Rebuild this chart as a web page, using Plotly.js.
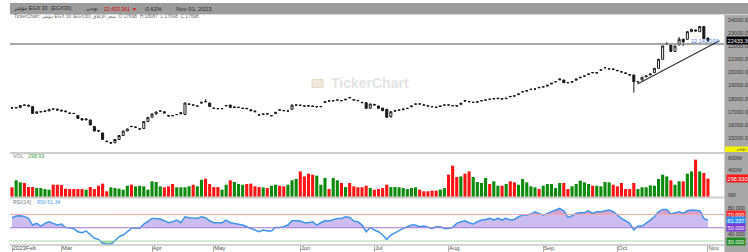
<!DOCTYPE html>
<html><head><meta charset="utf-8">
<script src="https://cdn.plot.ly/plotly-3.0.1.min.js"></script>
<style>html,body{margin:0;padding:0;background:#fff}#chart{width:748px;height:252px}</style>
</head><body><div id="chart"></div>
<script>
// ---- data (trading-day index 0..169, Feb 2023 .. Nov 01 2023) ----
const openP = [17300,17285,17330,17515,17500,17400,16880,16990,17010,17060,
17215,17200,17130,17060,16900,16880,16720,16480,16380,16373,
15878,15560,15384,14760,14620,14640,14890,15190,15540,15890,
15820,15690,15720,16260,16580,16830,17050,17000,16700,16710,
16780,16840,16790,17560,17520,17430,17650,17770,17665,17270,
17240,17232,17440,17513,17330,17320,17255,17260,17150,17060,
16760,16800,16860,16690,16860,17140,17090,17050,17186,17505,
17500,17440,17460,17440,17370,17380,17700,17825,17835,17885,
17860,17900,18075,17920,17860,17720,17688,17262,17560,17437,
17285,17186,16640,17040,17125,17150,17255,17380,17580,17595,
17520,17460,17390,17345,17400,17505,17520,17465,17460,17560,
17840,17770,17710,17730,17835,17885,17955,17985,17990,18000,
17990,18170,18205,18300,18515,18570,18700,18720,18860,18880,
18950,19110,19275,19420,19414,19215,19250,19400,19580,19710,
19830,19980,19940,20165,20340,20260,20250,20140,20040,19950,
19820,19795,19275,19414,19650,19800,19970,20304,20989,22145,
22076,21582,22076,22520,22510,23088,23217,23088,23483,22600];
const highP = [17330,17360,17500,17540,17520,17420,17020,17040,17080,17200,
17240,17220,17150,17080,16930,16900,16740,16500,16470,16400,
15900,15600,15420,14800,14700,14910,15220,15560,15720,15920,
15880,15720,16280,16600,16850,17000,17080,17020,16740,16720,
16830,16950,17690,17610,17550,17470,17740,17950,17690,17300,
17270,17270,17520,17530,17380,17360,17300,17270,17170,17080,
16800,16850,16870,16740,16980,17170,17110,17080,17530,17560,
17510,17460,17470,17450,17400,17420,17780,17850,17850,17930,
17870,17970,18110,17930,17870,17730,17700,17610,17580,17450,
17300,17200,17020,17100,17150,17230,17280,17460,17610,17600,
17550,17470,17400,17350,17450,17530,17530,17470,17470,17660,
17850,17780,17730,17780,17850,17920,17960,18000,18040,18010,
18040,18180,18210,18370,18560,18620,18740,18760,18870,18920,
19030,19180,19300,19510,19430,19220,19300,19510,19640,19760,
19890,20010,19990,20210,20390,20310,20260,20150,20050,19960,
19830,19810,19320,19640,19740,19890,20320,21010,22030,22300,
22100,22030,22684,22540,23120,23300,23240,23520,23500,22650];
const lowP = [17250,17270,17320,17460,17420,16840,16850,16960,17000,17050,
17170,17110,17040,16980,16850,16830,16470,16350,16360,15970,
15500,15480,14860,14680,14560,14620,14870,15170,15520,15820,
15790,15600,15700,16240,16560,16810,17030,16890,16650,16690,
16750,16830,16780,17540,17490,17410,17640,17740,17380,17240,
17210,17210,17430,17300,17310,17300,17240,17210,17060,16990,
16720,16790,16800,16680,16850,17100,17060,17040,17170,17490,
17480,17420,17420,17400,17360,17370,17690,17790,17830,17860,
17820,17890,18040,17880,17820,17670,17240,17240,17500,17250,
17060,16560,16540,17030,17120,17140,17250,17370,17570,17580,
17490,17420,17370,17330,17390,17500,17500,17450,17420,17550,
17800,17750,17700,17720,17830,17870,17930,17980,17980,17950,
17980,18130,18190,18290,18490,18560,18680,18700,18810,18870,
18940,19100,19270,19410,19190,19200,19240,19390,19570,19690,
19820,19940,19930,20150,20320,20240,20210,20100,20000,19900,
19780,18449,19250,19400,19640,19790,19960,20290,20970,22100,
21560,21560,22050,22000,22490,23070,23120,23070,22550,22300];
const closeP = [17285,17323,17475,17500,17437,16867,16990,17010,17057,17186,
17209,17133,17060,17004,16880,16867,16487,16373,16449,15992,
15536,15536,14890,14738,14640,14890,15194,15536,15688,15878,
15830,15700,16259,16578,16830,16981,17057,16905,16677,16700,
16791,16928,17665,17589,17513,17437,17718,17764,17400,17262,
17232,17240,17475,17323,17360,17340,17262,17232,17080,17004,
16753,16829,16829,16700,16958,17133,17080,17057,17513,17513,
17490,17437,17437,17410,17384,17400,17764,17817,17840,17893,
17840,17947,18068,17893,17840,17688,17262,17590,17513,17262,
17080,16578,17004,17080,17133,17209,17262,17437,17589,17589,
17513,17437,17384,17338,17437,17513,17513,17460,17437,17642,
17817,17764,17718,17764,17840,17893,17947,17990,18023,17969,
18023,18144,18198,18350,18525,18601,18707,18730,18829,18905,
19011,19163,19285,19490,19209,19209,19285,19490,19620,19719,
19871,19970,19970,20175,20350,20270,20228,20122,20023,19924,
19795,19285,19285,19620,19719,19871,20304,20989,22000,22152,
21582,22000,22510,22327,23088,23270,23141,23483,22573,22433.361];
// volume in millions
const volume = [157,270,237,227,161,161,145,145,129,119,
199,199,194,135,129,129,129,129,119,161,
129,183,216,92,157,145,135,119,183,199,
173,183,173,119,254,243,173,157,173,211,
157,157,157,173,199,173,280,296,211,161,
161,119,199,270,243,211,199,211,216,173,
161,157,145,183,199,183,173,199,270,292,
415,334,378,362,346,199,308,129,308,270,
227,161,227,173,157,157,183,145,119,129,
145,199,161,161,157,145,129,145,157,119,
92,92,103,103,119,145,362,507,324,334,
378,415,324,243,227,308,211,254,183,183,
211,254,237,199,292,237,173,157,129,183,
211,211,145,227,227,129,173,211,264,237,
211,183,183,173,243,237,199,173,227,129,
129,227,129,157,157,189,183,292,362,334,
270,199,254,254,378,415,605,415,389,298.93];
const rsi = [65,67.5,68,67,64,54,56.5,52.5,56.5,59,
56.5,54,55.5,50.5,50,48.5,44,42.5,45,39,
34,32.5,26.5,25,25,30.5,36.5,39,44,49,
50,49,55.5,60,64,64,63,60.5,57.5,59,
61.5,57.5,66.5,65,64,64,66.5,65,60.5,57.5,
57.5,57.5,61.5,57.5,56.5,55.5,54,51.5,49,46.5,
44,46.5,45,45,50.5,50.5,51.5,54,60.5,60.5,
60,57.5,57.5,59,54,57.5,60.5,60,61.5,64,
64,66.5,65.5,60,59,54,44,50.5,46.5,44,
39,32.5,39,42.5,46.5,49,51.5,54,54,51.5,
52.5,50.5,49,51.5,51.5,49,49,50.5,56.5,59,
60.5,57.5,55.5,59,61.5,62.5,64,61.5,64,61.5,
64,61.5,62.5,66.5,69,69,70.5,74,71.5,69,
71.5,74,76.5,79,75.5,65.5,68,71.5,73,72.5,
75.5,71.5,74,74,75.5,76.5,74,69,64,60.5,
56.5,46.5,52.5,52.5,56.5,61.5,66.5,74,77.5,77.5,
70.5,72.5,74,71.5,75.5,76.5,75.5,75.5,64,61.337];
const monthTickIdx = [0,12,34,49,70,88,106,129,147,169];
const monthTickText = ['2023Feb','Mar','Apr','May','Jun','Jul','Aug','Sep','Oct','Nov'];
const priceTicks = [15000,16000,17000,18000,19000,20000,21000,22000,23000,24000];
const volTicks = [0,400,600];
const volTickText = ['0M','400M','600M'];
const rsiTicks = [30,40,50,60,70,80];
const rsiLevels = {upper:70, mid:50, lower:30};
const hLineValue = 22143;                 // drawn horizontal line
const trendStart = [151.9, 19110];        // drawn trend line
const trendEnd = [171.8, 22403];

// ---- helpers ----
const FONT = 'Liberation Sans, Arial, DejaVu Sans, sans-serif';
const W = 748, H = 252;
const X = px => px / W;
const Y = py => 1 - py / H;
const idx = closeP.map((_, i) => i);
const last = closeP.length - 1;

const traces = [];
traces.push({
  type: 'candlestick', x: idx, open: openP, high: highP, low: lowP, close: closeP,
  xaxis: 'x', yaxis: 'y', whiskerwidth: 0, hoverinfo: 'skip', showlegend: false,
  increasing: {line: {color: '#1a1a1a', width: 1}, fillcolor: '#ffffff'},
  decreasing: {line: {color: '#1a1a1a', width: 1}, fillcolor: '#1a1a1a'}
});
traces.push({
  type: 'bar', x: idx, y: volume, xaxis: 'x', yaxis: 'y2', hoverinfo: 'skip', showlegend: false,
  marker: {color: idx.map(i => closeP[i] >= openP[i] ? '#0b8a0b' : '#ff1414'), line: {width: 0}}
});
function band(level, fn, color) {
  traces.push({x: idx, y: rsi.map(() => level), xaxis: 'x', yaxis: 'y3', mode: 'lines',
    line: {width: 0}, hoverinfo: 'skip', showlegend: false});
  traces.push({x: idx, y: rsi.map(fn), xaxis: 'x', yaxis: 'y3', mode: 'lines',
    line: {width: 0}, fill: 'tonexty', fillcolor: color, hoverinfo: 'skip', showlegend: false});
}
band(rsiLevels.mid, v => Math.max(v, rsiLevels.mid), '#cdbcef');
band(rsiLevels.upper, v => Math.max(v, rsiLevels.upper), '#d6a2d2');
band(rsiLevels.lower, v => Math.min(v, rsiLevels.lower), '#a9dba0');
traces.push({x: idx, y: rsi, xaxis: 'x', yaxis: 'y3', mode: 'lines',
  line: {color: '#3f95ea', width: 1.5}, hoverinfo: 'skip', showlegend: false});

const shapes = [
  // header bar and right axis panel
  {type: 'rect', xref: 'paper', yref: 'paper', x0: X(10), x1: 1, y0: Y(14), y1: Y(3), fillcolor: '#9c9c9c', line: {width: 0}, layer: 'below'},
  {type: 'rect', xref: 'paper', yref: 'paper', x0: X(724), x1: 1, y0: 0, y1: Y(14), fillcolor: '#a8a8a8', line: {width: 0}, layer: 'below'},
  {type: 'line', xref: 'paper', yref: 'paper', x0: X(10), x1: 1, y0: Y(14.6), y1: Y(14.6), line: {color: '#d6d6d6', width: 1}},
  {type: 'line', xref: 'paper', yref: 'paper', x0: X(724.5), x1: X(724.5), y0: 0, y1: Y(14.6), line: {color: '#cfcfcf', width: 1}},
  // panel separators
  {type: 'line', xref: 'paper', yref: 'paper', x0: X(10), x1: X(724), y0: Y(153), y1: Y(153), line: {color: '#cdcdcd', width: 2}},
  {type: 'line', xref: 'paper', yref: 'paper', x0: X(10), x1: X(724), y0: Y(197.5), y1: Y(197.5), line: {color: '#cdcdcd', width: 2}},
  {type: 'line', xref: 'paper', yref: 'paper', x0: X(10), x1: X(724), y0: Y(245), y1: Y(245), line: {color: '#c4c4c4', width: 1.5}},
  // RSI levels
  {type: 'line', xref: 'paper', yref: 'y3', x0: X(10), x1: X(724), y0: rsiLevels.upper, y1: rsiLevels.upper, line: {color: '#f3a5a5', width: 1}},
  {type: 'line', xref: 'paper', yref: 'y3', x0: X(10), x1: X(724), y0: rsiLevels.mid, y1: rsiLevels.mid, line: {color: '#a47ad8', width: 1}},
  {type: 'line', xref: 'paper', yref: 'y3', x0: X(10), x1: X(724), y0: rsiLevels.lower, y1: rsiLevels.lower, line: {color: '#a8d6a8', width: 1}},
  // drawings on price chart
  {type: 'line', xref: 'paper', yref: 'y', x0: X(10), x1: X(724), y0: hLineValue, y1: hLineValue, line: {color: '#8a8a8a', width: 1.5}},
  {type: 'line', xref: 'x', yref: 'y', x0: trendStart[0], y0: trendStart[1], x1: trendEnd[0], y1: trendEnd[1], line: {color: '#333333', width: 1.2}},
  // watermark logo
  {type: 'rect', xref: 'paper', yref: 'paper', x0: X(312), x1: X(323), y0: Y(87.5), y1: Y(79.5), fillcolor: '#f1e8dc', line: {color: '#e6d8c6', width: 1}},
  // yellow tag at bottom of price axis
  {type: 'rect', xref: 'paper', yref: 'paper', x0: X(725), x1: 1, y0: Y(152), y1: Y(146.5), fillcolor: '#f4f400', line: {width: 0}}
];

const ann = [];
function txt(px, py, text, size, color, anchor, extra) {
  ann.push(Object.assign({xref: 'paper', yref: 'paper', x: X(px), y: Y(py), xanchor: anchor || 'left', yanchor: 'middle',
    text: text, showarrow: false, borderpad: 0, font: {family: FONT, size: size, color: color}}, extra || {}));
}
function tag(yref, val, text, bg, fg) {
  ann.push({xref: 'paper', yref: yref, x: X(726), y: val, xanchor: 'left', yanchor: 'middle', text: text, showarrow: false,
    bgcolor: bg, borderpad: 0.6, font: {family: FONT, size: 5.5, color: fg}});
}
// header
txt(12, 8.6, 'مؤشر EGX 30  (EGX30)', 5.4, '#2e2e2e');
txt(85, 8.6, 'يومي', 5.6, '#2e2e2e');
txt(103, 8.6, '22,433.361', 5.2, '#e00000');
txt(131, 8.6, '▼', 5, '#e00000');
txt(143, 8.6, '-0.62%', 5.6, '#2e2e2e');
txt(175, 8.6, 'Nov 01, 2023', 6, '#2e2e2e');
txt(13, 17.2, 'TickerChart: مؤشر EGX 30 (EGX30) سعر الإغلاق  O:17698  H:18087  L:17698  C:17698', 4.8, '#6a6a6a');
// watermark
txt(370, 83.5, '<b>TickerChart</b>', 14, '#e4e4e4', 'center');
// panel captions
txt(12, 156, 'VOL', 5.3, '#7a7a7a');
txt(27, 156, volume[last].toFixed(2), 5.3, '#3c9c3c');
txt(12, 201.5, 'RSI(14)', 5.3, '#7a7a7a');
txt(36, 201.5, 'RSI:' + rsi[last].toFixed(2), 5.3, '#4aa0f0');
// line value label
ann.push({xref: 'paper', yref: 'y', x: X(720), y: hLineValue, yshift: 3, xanchor: 'right', yanchor: 'middle',
  text: '22,143.000', showarrow: false, borderpad: 0, font: {family: FONT, size: 5.5, color: '#4a7de8'}});
// right axis tags
tag('y', closeP[last], closeP[last].toFixed(3), '#000000', '#ffffff');
tag('y2', volume[last], volume[last].toFixed(3) + 'M', '#ff1a1a', '#ffffff');
tag('y3', rsiLevels.upper, '70.000', '#ff2a2a', '#ffffff');
tag('y3', rsi[last], rsi[last].toFixed(3), '#2f90f0', '#ffffff');
tag('y3', rsiLevels.mid, '50.000', '#7a3fd2', '#ffffff');
tag('y3', rsiLevels.lower, '30.000', '#1f8a1f', '#ffffff');
txt(747, 149.3, 'يومي', 4.5, '#555555', 'right');

const axFont = {family: FONT, size: 5.5, color: '#333333'};
const layout = {
  width: W, height: H, margin: {l: 0, r: 0, t: 0, b: 0},
  paper_bgcolor: '#ffffff', plot_bgcolor: 'rgba(0,0,0,0)',
  showlegend: false, bargap: 0.25, boxgap: 0.3, dragmode: false,
  xaxis: {domain: [X(10), X(724)], range: [-0.49, 172.9], anchor: 'y3',
    tickmode: 'array', tickvals: monthTickIdx, ticktext: monthTickText,
    ticks: 'outside', ticklen: 6, tickcolor: '#b0b0b0', tickwidth: 1,
    ticklabelposition: 'outside right', ticklabelstandoff: -3,
    tickfont: {family: FONT, size: 6, color: '#555555'},
    showgrid: false, zeroline: false, showline: false, rangeslider: {visible: false}, fixedrange: true},
  yaxis: {domain: [Y(152), Y(15)], range: [13939, 24357], side: 'right', anchor: 'x',
    tickmode: 'array', tickvals: priceTicks, ticktext: priceTicks.map(v => v.toFixed(3)),
    ticks: '', ticklabelstandoff: 3, tickfont: axFont, showgrid: false, zeroline: false, fixedrange: true},
  yaxis2: {domain: [Y(197), Y(153)], range: [0, 713], side: 'right', anchor: 'x',
    tickmode: 'array', tickvals: volTicks, ticktext: volTickText, ticklabelshift: -2,
    ticks: '', ticklabelstandoff: 3, tickfont: axFont, showgrid: false, zeroline: false, fixedrange: true},
  yaxis3: {domain: [Y(245), Y(198)], range: [24, 94.7], side: 'right', anchor: 'x',
    tickmode: 'array', tickvals: rsiTicks, ticktext: rsiTicks.map(v => v.toFixed(3)),
    ticks: '', ticklabelstandoff: 3, tickfont: axFont, showgrid: false, zeroline: false, fixedrange: true},
  shapes: shapes, annotations: ann
};
Plotly.newPlot('chart', traces, layout, {staticPlot: true, displayModeBar: false});
</script>
</body></html>
